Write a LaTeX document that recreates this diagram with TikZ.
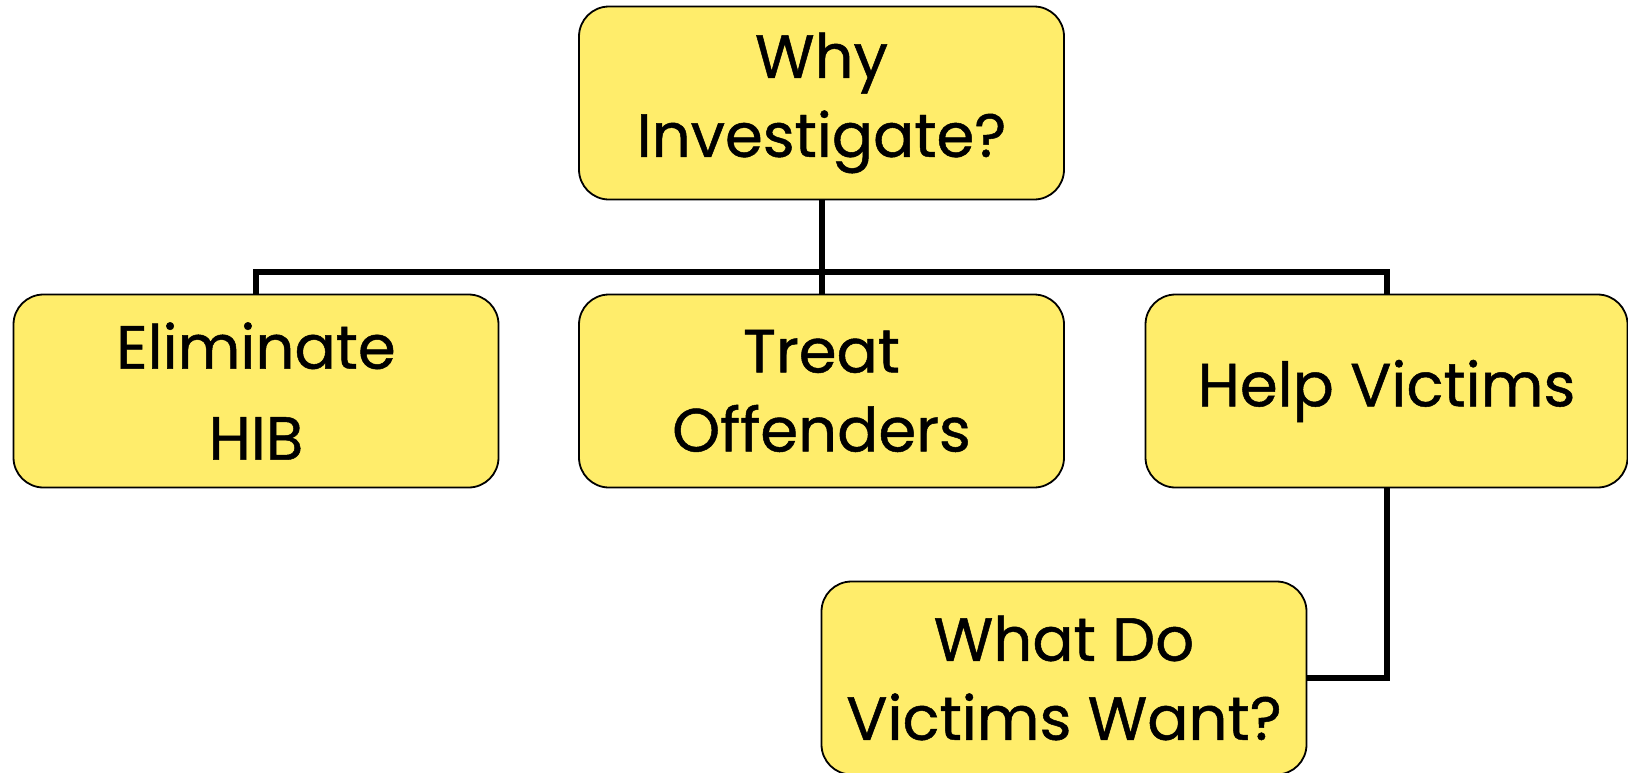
\documentclass[tikz,border=0pt]{standalone}
\usepackage{fontspec}
\setmainfont{Poppins}[FakeBold=0.8]
\definecolor{boxfill}{HTML}{FFED6B}
\tikzset{
  box/.style={draw=black, line width=1.8pt, fill=boxfill, rounded corners=30pt,
    minimum width=485pt, minimum height=193pt, align=center, inner sep=0pt,
    font=\fontsize{61}{79}\selectfont},
  conn/.style={draw=black, line width=6pt}
}
\begin{document}
\begin{tikzpicture}[x=1pt,y=-1pt]
\useasboundingbox (0,0) rectangle (1628,772);
\node[box] (top)   at (821.5,103) {Why\\Investigate?};
\node[box] (elim)  at (256,391)   {Eliminate\\[12pt]HIB};
\node[box] (treat) at (821.5,391) {Treat\\Offenders};
\node[box, minimum width=482pt] (help) at (1386.5,391) {Help Victims};
\node[box] (what)  at (1064,678)  {What Do\\Victims Want?};
\coordinate (bus) at (0,272);
\draw[conn] (top.south) -- (treat.north);
\draw[conn] (elim.north) -- (elim.north |- bus) -- (help.north |- bus) -- (help.north);
\draw[conn] (help.south) |- (what.east);
\end{tikzpicture}
\end{document}
